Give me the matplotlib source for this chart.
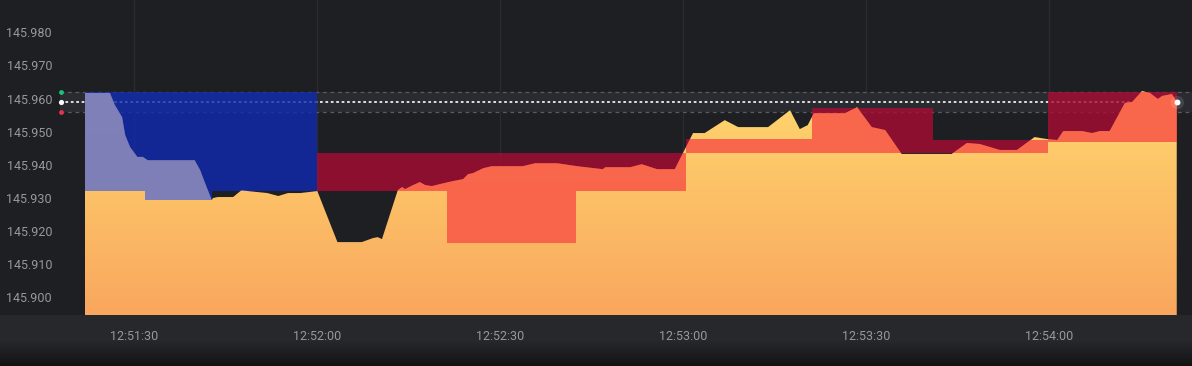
import numpy as np
import matplotlib
matplotlib.use("Agg")
import matplotlib.pyplot as plt
from matplotlib.patches import Polygon, Rectangle
from matplotlib.colors import to_rgb

plt.rcParams['font.family'] = ['Roboto', 'DejaVu Sans']

# price line: seconds after 12:51:00 and quote
times = [21.9, 26.0, 26.8, 28.0, 28.5, 29.3, 30.5, 31.4, 32.2, 39.9, 40.8, 41.6,
         42.7, 42.9, 43.7, 46.2, 47.6, 48.6, 51.8, 53.6, 55.2, 57.2, 60.0, 63.3,
         67.3, 69.1, 69.9, 70.6, 73.2, 73.9, 74.4, 75.7, 76.8, 77.7, 78.8, 80.1,
         82.2, 83.9, 84.7, 85.5, 87.2, 88.6, 93.7, 95.7, 99.3, 102.6, 106.8, 107.2,
         111.3, 113.2, 115.7, 118.6, 121.6, 123.5, 126.8, 129.0, 133.9, 137.5,
         139.1, 140.4, 141.4, 146.5, 148.5, 150.9, 153.1, 155.8, 164.0, 166.5,
         168.6, 171.9, 174.7, 177.6, 179.6, 181.3, 182.3, 185.4, 187.0, 188.3,
         189.9, 192.4, 193.6, 195.2, 196.5, 197.8, 198.5, 200.1, 200.9]
prices = [145.9617, 145.9617, 145.9581, 145.9544, 145.9490, 145.9454, 145.9424,
          145.9424, 145.9414, 145.9414, 145.9384, 145.9345, 145.9294, 145.9300,
          145.9303, 145.9303, 145.9324, 145.9321, 145.9315, 145.9306, 145.9315,
          145.9315, 145.9321, 145.9167, 145.9167, 145.9179, 145.9182, 145.9176,
          145.9324, 145.9333, 145.9327, 145.9339, 145.9348, 145.9339, 145.9336,
          145.9342, 145.9351, 145.9357, 145.9372, 145.9375, 145.9390, 145.9396,
          145.9396, 145.9405, 145.9405, 145.9396, 145.9387, 145.9393, 145.9393,
          145.9402, 145.9387, 145.9387, 145.9496, 145.9496, 145.9535, 145.9514,
          145.9514, 145.9565, 145.9508, 145.9520, 145.9556, 145.9556, 145.9574,
          145.9514, 145.9505, 145.9433, 145.9433, 145.9466, 145.9463, 145.9445,
          145.9445, 145.9484, 145.9478, 145.9475, 145.9502, 145.9502, 145.9496,
          145.9502, 145.9502, 145.9587, 145.9590, 145.9623, 145.9617, 145.9599,
          145.9608, 145.9614, 145.9590]

# boxes: start, end, low, high, kind
box_start = [21.9, 31.75, 60.0, 81.3, 120.5, 141.1, 160.9, 179.8]
box_end = [60.0, 42.7, 120.5, 102.4, 141.1, 160.9, 179.8, 200.95]
box_low = [145.932, 145.9294, 145.932, 145.9165, 145.9435, 145.9435, 145.9437, 145.947]
box_high = [145.962, 145.932, 145.9437, 145.932, 145.9477, 145.9571, 145.9475, 145.962]
box_kind = ['blue', 'blue', 'red', 'red', 'red', 'red', 'red', 'red']

upper_level = 145.962
current_level = 145.959
lower_level = 145.956

tick_times = [30, 60, 90, 120, 150, 180]
tick_labels = ['12:51:30', '12:52:00', '12:52:30', '12:53:00', '12:53:30', '12:54:00']
y_ticks = [145.90, 145.91, 145.92, 145.93, 145.94, 145.95, 145.96, 145.97, 145.98]

x_lo, x_hi = 7.98, 203.4
y_lo, y_hi = 145.8947, 145.98975

dark_col = {'blue': '#0f2ab0', 'red': '#aa0c33'}
light_col = {'blue': '#8786ba', 'red': '#ff6c4d'}

fig = plt.figure(figsize=(11.92, 3.66), dpi=100)
fig.patch.set_facecolor('#1e1f23')

# background strip under the plot
bg = fig.add_axes([0, 0, 1, 1])
bg.axis('off')
rows = np.zeros((366, 1, 3))
c_top = np.array(to_rgb('#1e1f23'))
c_mid = np.array(to_rgb('#27282c'))
c_bot = np.array(to_rgb('#131315'))
for i in range(366):
    if i < 315:
        rows[i, 0] = c_top
    elif i < 340:
        rows[i, 0] = c_mid
    else:
        f = (i - 340) / 26
        rows[i, 0] = c_mid * (1 - f) + c_bot * f
bg.imshow(rows, aspect='auto', extent=[0, 1, 0, 1])

ax = fig.add_axes([0, 51 / 366, 1, 315 / 366])
ax.set_facecolor('none')
ax.set_xlim(x_lo, x_hi)
ax.set_ylim(y_lo, y_hi)
for s in ax.spines.values():
    s.set_visible(False)

for t in tick_times:
    ax.axvline(t, color='#2b2c31', lw=1, zorder=1)

# level band and lines
ax.fill_between([17.8, x_hi], lower_level, upper_level, color='#2a2b30', zorder=1, lw=0)
ax.plot([17.8, x_hi], [upper_level] * 2, color='#5a5b60', lw=0.9, ls=(0, (3, 3)), zorder=2)
ax.plot([17.8, x_hi], [lower_level] * 2, color='#5a5b60', lw=0.9, ls=(0, (3, 3)), zorder=2)
ax.plot([17.8, times[-1]], [current_level] * 2, color='#ececec', lw=1.3, ls=(0, (1.5, 1.5)), zorder=2)
ax.scatter([18.0], [upper_level], s=12, color='#16c47f', zorder=6, lw=0)
ax.scatter([18.0], [current_level], s=14, color='white', zorder=6, lw=0)
ax.scatter([18.0], [lower_level], s=12, color='#e8324c', zorder=6, lw=0)

# price area with gradient
verts = [(times[0], y_lo)] + list(zip(times, prices)) + [(times[-1], y_lo)]
area = Polygon(verts, closed=True, facecolor='none', edgecolor='none')
ax.add_patch(area)
grad = np.linspace(0, 1, 256)[:, None]
top = np.array(to_rgb('#ffd66e'))
bot = np.array(to_rgb('#f9a75e'))
img = top * (1 - grad[..., None]) + bot * grad[..., None]
im = ax.imshow(img, aspect='auto', extent=[times[0], times[-1], y_lo, upper_level],
               zorder=3, interpolation='bilinear')
im.set_clip_path(area)

# boxes
for t0, t1, lo, hi, k in zip(box_start, box_end, box_low, box_high, box_kind):
    r = Rectangle((t0, lo), t1 - t0, hi - lo, facecolor=dark_col[k], alpha=0.8, lw=0, zorder=4)
    ax.add_patch(r)
    r2 = Rectangle((t0, lo), t1 - t0, hi - lo, facecolor=light_col[k], alpha=0.9, lw=0, zorder=5)
    ax.add_patch(r2)
    r2.set_clip_path(area)

# current price marker
ax.scatter([times[-1]], [current_level], s=90, color='white', alpha=0.12, zorder=6, lw=0)
ax.scatter([times[-1]], [current_level], s=18, color='white', zorder=7, lw=0)

ax.set_xticks(tick_times)
ax.set_xticklabels(tick_labels)
ax.set_yticks(y_ticks)
ax.set_yticklabels([f'{v:.3f}' for v in y_ticks])
ax.tick_params(axis='x', length=0, pad=11, labelsize=9, labelcolor='#97989d')
ax.tick_params(axis='y', length=0, pad=-52 * 0.72, labelsize=9, labelcolor='#97989d')

fig.savefig('out.png', dpi=100, facecolor=fig.get_facecolor())
